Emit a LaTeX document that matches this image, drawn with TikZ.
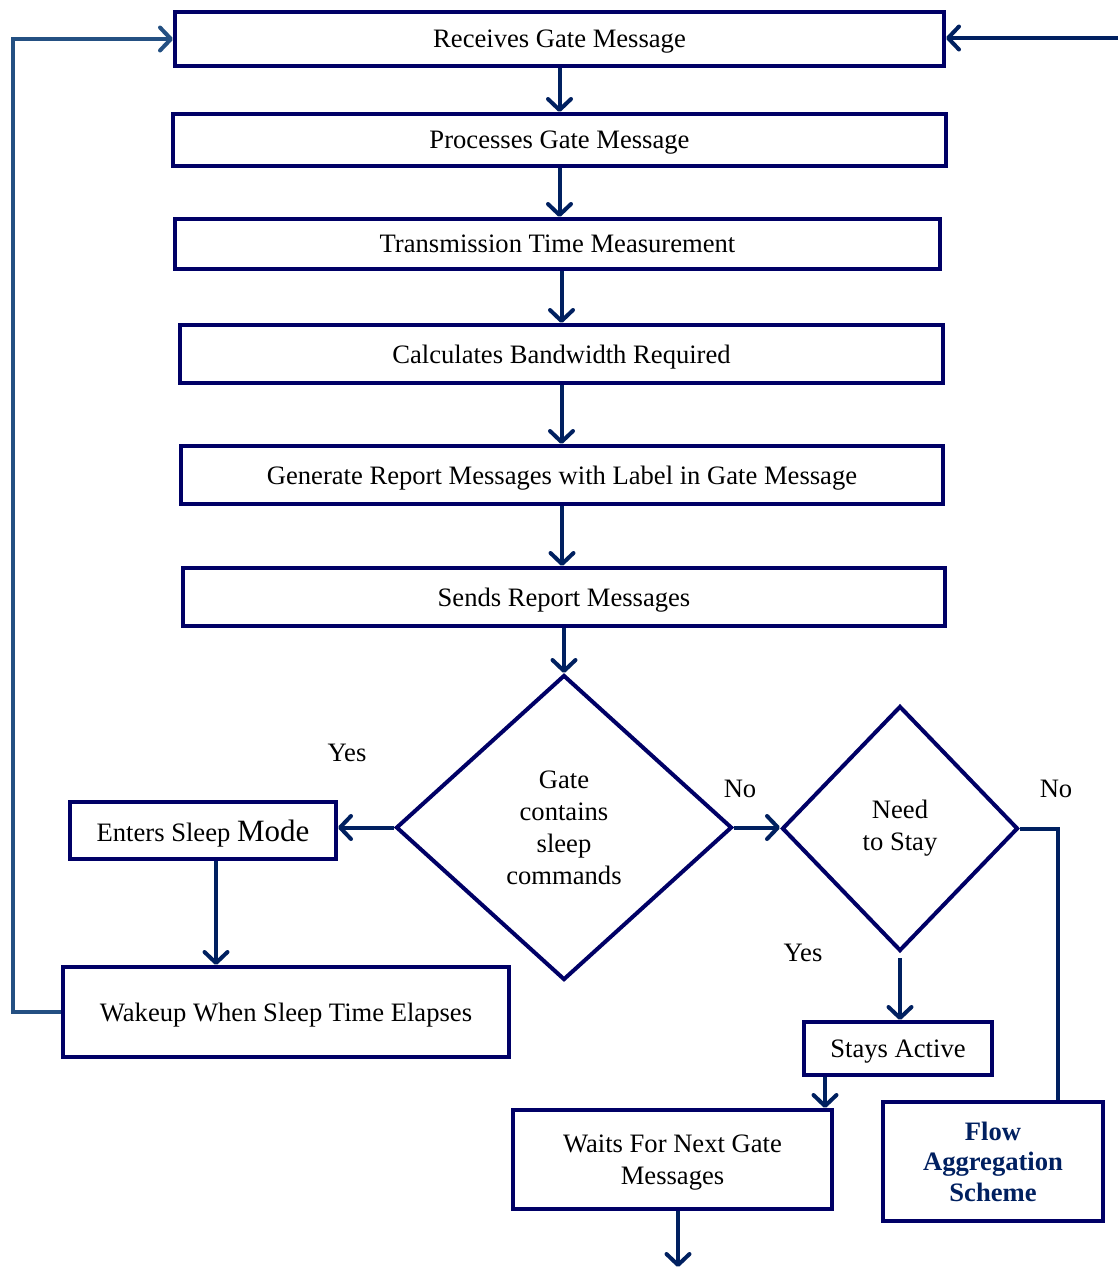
\documentclass[tikz,border=0pt]{standalone}
\usepackage{fontspec}
\setmainfont{Liberation Serif}
\usetikzlibrary{arrows.meta,shapes.geometric}
\definecolor{boxc}{RGB}{0,0,102}
\definecolor{arrc}{RGB}{0,32,96}
\definecolor{loopc}{RGB}{36,80,130}
\begin{document}
\begin{tikzpicture}[x=1pt,y=-1pt,
  every node/.style={font=\fontsize{26.6}{32}\selectfont, text=black},
  box/.style={draw=boxc, line width=4pt, rectangle, inner sep=0pt, align=center, text depth=0pt},
  dia/.style={draw=boxc, line width=4pt, diamond, inner sep=0pt, align=center},
  arr/.style={draw=arrc, line width=4pt, -{Straight Barb[length=11pt,width=23pt,round]}},
  lbl/.style={inner sep=0pt}
]
\useasboundingbox (0,0) rectangle (1118,1267);
\fill[white] (0,0) rectangle (1118,1267);

\node[box, minimum width=769, minimum height=54] (b1) at (559.5,39) {Receives Gate Message};
\node[box, minimum width=773, minimum height=52] (b2) at (559.5,140) {Processes Gate Message};
\node[box, minimum width=765, minimum height=50] (b3) at (557.5,244) {Transmission Time Measurement};
\node[box, minimum width=763, minimum height=58] (b4) at (561.5,354) {Calculates Bandwidth Required};
\node[box, minimum width=762, minimum height=58] (b5) at (562,475) {Generate Report Messages with Label in Gate Message};
\node[box, minimum width=762, minimum height=58] (b6) at (564,597) {Sends Report Messages};

\node[dia, minimum width=336, minimum height=305] (d1) at (564,827.5) {Gate\\contains\\sleep\\commands};
\node[dia, minimum width=236, minimum height=245] (d2) at (900,828.5) {Need\\to Stay};

\node[box, minimum width=266, minimum height=57] (sl) at (203,830.5) {Enters Sleep {\fontsize{31}{32}\selectfont Mode}};
\node[box, minimum width=446, minimum height=90] (wk) at (286,1012) {Wakeup When Sleep Time Elapses};
\node[box, minimum width=188, minimum height=53] (sa) at (898,1048.5) {Stays Active};
\node[box, minimum width=319, minimum height=99] (wt) at (672.5,1159.5) {Waits For Next Gate\\Messages};
\node[box, minimum width=220, minimum height=119, font=\fontsize{26.6}{30.5}\selectfont\bfseries, text=arrc] (fa) at (993,1161.5) {Flow\\Aggregation\\Scheme};

\node[lbl] (y1) at (347,753) {Yes};
\node[lbl] (n1) at (740,789) {No};
\node[lbl] (n2) at (1056,789) {No};
\node[lbl] (y2) at (803,953) {Yes};

\coordinate (cin) at (1118,38);
\coordinate (cx1) at (216,0);
\coordinate (cx2) at (825,0);
\coordinate (cx3) at (678,0);
\coordinate (cout) at (678,1267);
\coordinate (cl) at (13,0);
\coordinate (cr) at (1058,0);

\draw[arr] (b1.south) -- (b1.south |- b2.north);
\draw[arr] (b2.south) -- (b2.south |- b3.north);
\draw[arr] (b3.south -| b4.south) -- (b4.north);
\draw[arr] (b4.south) -- (b4.south |- b5.north);
\draw[arr] (b5.south) -- (b5.south |- b6.north);
\draw[arr] (b6.south) -- (b6.south |- d1.north);
\draw[arr] (d1.west) -- (d1.west -| sl.east);
\draw[arr] (sl.south -| cx1) -- (wk.north -| cx1);
\draw[arr] (d1.east) -- (d1.east -| d2.west);
\draw[arr, shorten <=5pt] (d2.south) -- (d2.south |- sa.north);
\draw[arr] (sa.south -| cx2) -- (wt.north -| cx2);
\draw[arr] (wt.south -| cx3) -- (cout);
\draw[arr] (cin) -- (b1.east |- cin);
\draw[draw=arrc, line width=4pt] (d2.east) -- (d2.east -| cr) -- (fa.north -| cr);
\draw[draw=loopc, line width=4pt, -{Straight Barb[length=11pt,width=23pt,round]}] (wk.west) -- (wk.west -| cl) |- (b1.west);
\end{tikzpicture}
\end{document}
